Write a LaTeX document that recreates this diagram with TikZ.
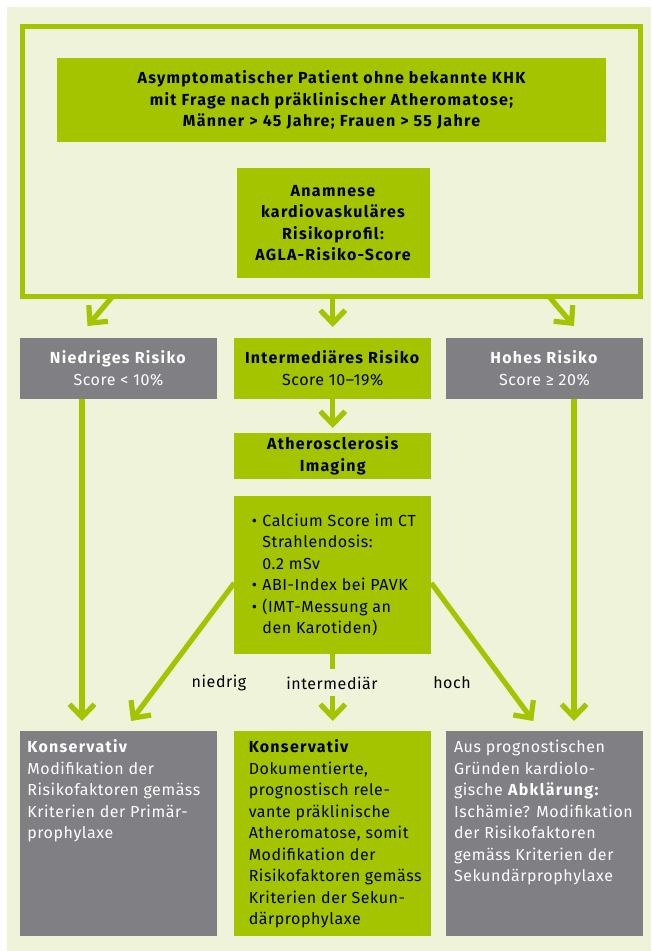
\documentclass[tikz,border=0pt]{standalone}
\usepackage{fontspec}
\setmainfont{Fira Sans}[LetterSpace=3.5, BoldFeatures={LetterSpace=8}]
\usetikzlibrary{arrows.meta}
\definecolor{leaf}{HTML}{A5C400}
\definecolor{slate}{HTML}{807F84}
\definecolor{cream}{HTML}{EFF3DA}
\newcommand\bodyfont{\fontsize{16}{21.5}\selectfont}
\newcommand\bulletitem{\par\hangindent=10.7pt\hangafter=1\noindent\makebox[10.7pt][l]{\textbullet}}
\begin{document}
\begin{tikzpicture}[x=1pt,y=-1pt,
  every node/.style={inner sep=0pt, outer sep=0pt, font=\bodyfont},
  greenbox/.style={fill=leaf, text=black},
  greybox/.style={fill=slate, text=white},
  colbox/.style={minimum width=197pt},
  headbox/.style={align=center, font=\bodyfont\bfseries},
  tallbox/.style={colbox, inner ysep=6.5pt, anchor=north},
  conn/.style={draw=leaf, line width=5.2pt},
  arr/.style={conn, -{Straight Barb[length=13pt, width=25pt]}},
  lbl/.style={text=black},
]
\useasboundingbox (0,0) rectangle (651,951);
\fill[cream] (7,7) rectangle (651,951);

% outer frame around the entry criteria
\node[draw=leaf, line width=5pt, minimum width=617.5pt, minimum height=270pt] (frame) at (331.25,161.5) {};

\node[greenbox, headbox, minimum width=549pt, minimum height=84pt] (patient) at (331.5,100)
  {Asymptomatischer Patient ohne bekannte KHK\\mit Frage nach präklinischer Atheromatose;\\Männer > 45 Jahre; Frauen > 55 Jahre};

\node[greenbox, headbox, minimum width=193pt, minimum height=110pt] (history) at (333,223)
  {Anamnese\\kardiovaskuläres\\Risikoprofil:\\AGLA-Risiko-Score};

% risk classes
\node[greybox, colbox, minimum height=61pt, align=center] (low) at (118.5,368.5)
  {\textbf{Niedriges Risiko}\\Score < 10\%};
\node[greenbox, colbox, minimum height=61pt, align=center] (mid) at (332.75,368.5)
  {\textbf{Intermediäres Risiko}\\Score 10–19\%};
\node[greybox, colbox, minimum height=61pt, align=center] (high) at (544.5,368.5)
  {\textbf{Hohes Risiko}\\Score ≥ 20\%};

% imaging
\node[greenbox, colbox, headbox, minimum height=46pt] (imaging) at (332.75,456)
  {Atherosclerosis\\Imaging};
\node[greenbox, colbox, minimum height=158pt] (methods) at (332.75,575)
  {\parbox{197pt}{\raggedright\leftskip=17.5pt\relax
   \bulletitem Calcium Score im CT\newline Strahlendosis:\newline 0.2 mSv
   \bulletitem ABI-Index bei PAVK
   \bulletitem (IMT-Messung an\newline den Karotiden)\par}};

% outcome labels
\node[lbl] (lblLow) at (219,683) {niedrig};
\node[lbl] (lblMid) at (332,683) {intermediär};
\node[lbl] (lblHigh) at (452,683) {hoch};

% consequences
\node[greybox, tallbox] (conslow) at (118.5,731)
  {\parbox[c][191.7pt][t]{197pt}{\raggedright\leftskip=7.4pt\relax\strut
   \textbf{Konservativ}\\Modifikation der\\Risikofaktoren gemäss\\Kriterien der Primär-\\prophylaxe}};
\node[greenbox, tallbox] (consmid) at (332.75,731)
  {\parbox[c][191.7pt][t]{197pt}{\raggedright\leftskip=14.5pt\relax\strut
   \textbf{Konservativ}\\Dokumentierte,\\prognostisch rele-\\vante präklinische\\Atheromatose, somit\\Modifikation der\\Risikofaktoren gemäss\\Kriterien der Sekun-\\därprophylaxe}};
\node[greybox, tallbox] (conshigh) at (544.5,731)
  {\parbox[c][191.7pt][t]{197pt}{\raggedright\leftskip=8pt\relax\strut
   Aus prognostischen\\Gründen kardiolo-\\gische \textbf{Abklärung:}\\Ischämie? Modifikation\\der Risikofaktoren\\gemäss Kriterien der\\Sekundärprophylaxe}};

% connectors
\draw[arr] ([xshift=-218.75pt]frame.south) -- ([xshift=-31pt,yshift=12pt]low.north);
\draw[arr] (frame.south -| mid.north) -- ([yshift=11pt]mid.north);
\draw[arr] ([xshift=217.75pt]frame.south) -- ([xshift=29.5pt,yshift=12pt]high.north);
\draw[arr] (mid.south) -- ([yshift=5pt]imaging.north);
\draw[arr] ([xshift=-36.5pt]low.south) -- ([xshift=-36.5pt,yshift=10pt]conslow.north);
\draw[arr] ([xshift=29.5pt]high.south) -- ([xshift=29.5pt,yshift=10pt]conshigh.north);
\draw[arr] ([yshift=-8pt]methods.west) -- ([xshift=12.5pt,yshift=10pt]conslow.north);
\draw[arr] ([yshift=-8pt]methods.east) -- ([xshift=-11.2pt,yshift=10pt]conshigh.north);
\draw[conn] (methods.south) -- ([yshift=-14.5pt]methods.south);
\draw[arr] ([yshift=35pt]consmid.north) -- ([yshift=10pt]consmid.north);
\end{tikzpicture}
\end{document}
